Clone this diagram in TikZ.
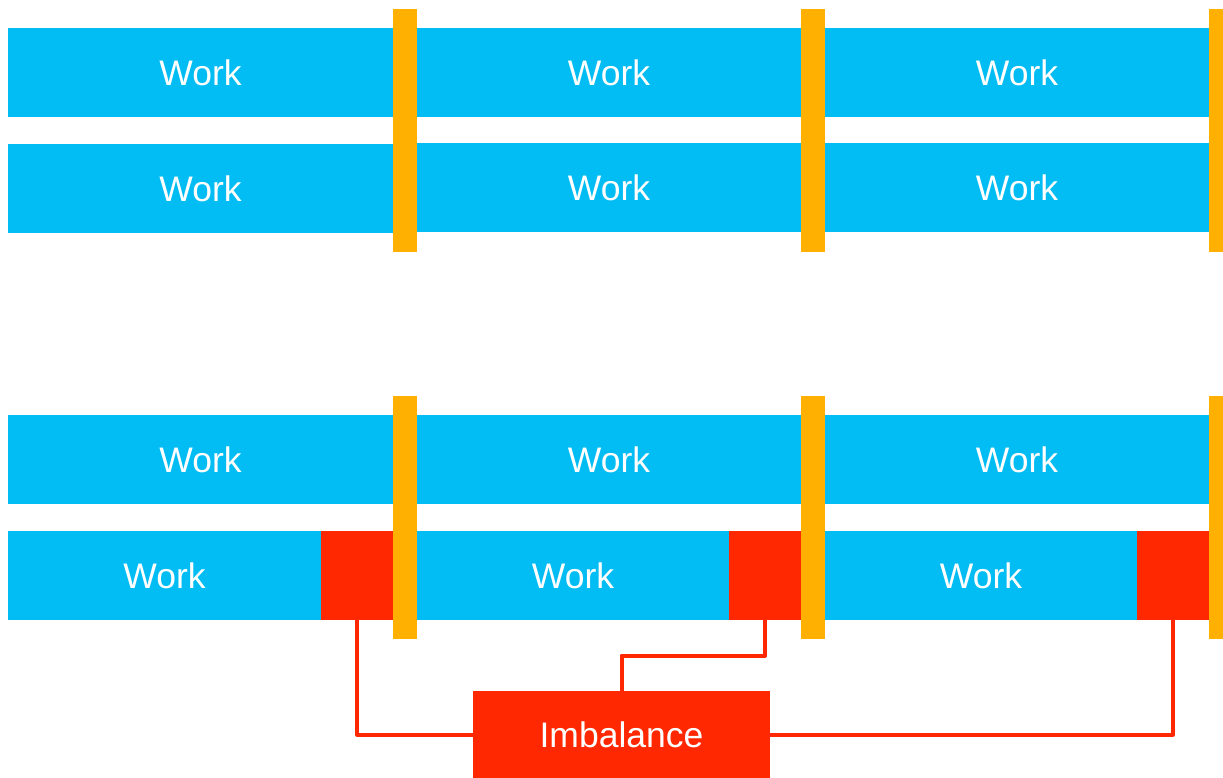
\documentclass[tikz,border=0pt]{standalone}
\usepackage{fontspec}
\setmainfont{Liberation Sans}
\definecolor{workblue}{HTML}{02BDF3}
\definecolor{barrierorange}{HTML}{FFB000}
\definecolor{waitred}{HTML}{FF2800}
\begin{document}
\begin{tikzpicture}[x=1pt,y=-1pt,
  every node/.style={inner sep=0pt,outer sep=0pt},
  label font/.style={font=\fontsize{35.5}{40}\selectfont},
  work/.style={rectangle,fill=workblue,text=white,label font,anchor=north west,minimum height=89pt},
  wait/.style={rectangle,fill=waitred,anchor=north west,minimum height=89pt,minimum width=72pt},
  barrier/.style={rectangle,fill=barrierorange,anchor=north west,minimum width=24pt,minimum height=243pt},
  imbox/.style={rectangle,fill=waitred,text=white,label font,minimum width=297pt,minimum height=87pt},
  link/.style={draw=waitred,line width=4pt,line join=round}]
\useasboundingbox (0,0) rectangle (1223,778);

% balanced phases: two threads, three phases
\node[work,minimum width=385pt] (a1) at (8,28) {Work};
\node[work,minimum width=384pt] (a2) at (417,28) {Work};
\node[work,minimum width=384pt] (a3) at (825,28) {Work};
\node[work,minimum width=385pt] (b1) at (8,144) {Work};
\node[work,minimum width=384pt] (b2) at (417,143) {Work};
\node[work,minimum width=384pt] (b3) at (825,143) {Work};
\node[barrier] (s1) at (393,9) {};
\node[barrier] (s2) at (801,9) {};
\node[barrier,minimum width=14pt] (s3) at (1209,9) {};

% unbalanced phases: second thread finishes early and waits
\node[work,minimum width=385pt] (c1) at (8,415) {Work};
\node[work,minimum width=384pt] (c2) at (417,415) {Work};
\node[work,minimum width=384pt] (c3) at (825,415) {Work};
\node[work,minimum width=313pt] (d1) at (8,531) {Work};
\node[work,minimum width=312pt] (d2) at (417,531) {Work};
\node[work,minimum width=312pt] (d3) at (825,531) {Work};
\node[wait] (r1) at (321,531) {};
\node[wait] (r2) at (729,531) {};
\node[wait] (r3) at (1137,531) {};
\node[barrier] (t1) at (393,396) {};
\node[barrier] (t2) at (801,396) {};
\node[barrier,minimum width=14pt] (t3) at (1209,396) {};

% idle time label and its links
\node[imbox] (imb) at (621.5,734.5) {Imbalance};
\draw[link] (r1.south) |- (imb.west);
\draw[link] (r3.south) |- (imb.east);
\draw[link] (r2.south) -- ++(0,35.5) -| (imb.north);
\end{tikzpicture}
\end{document}
